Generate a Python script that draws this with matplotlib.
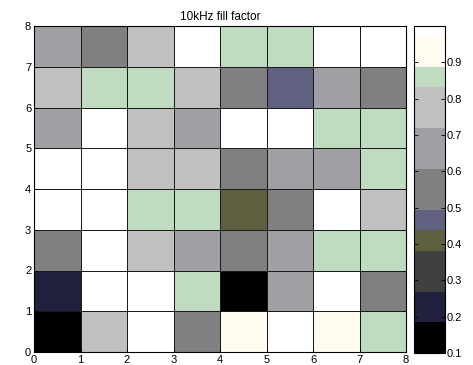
import numpy as np
import matplotlib
matplotlib.use("Agg")
import matplotlib.pyplot as plt
from matplotlib.colors import ListedColormap, Normalize

plt.rcParams['font.family'] = ['Liberation Sans', 'DejaVu Sans']

title = "10kHz fill factor"
x_edges = [0, 1, 2, 3, 4, 5, 6, 7, 8]
y_edges = [0, 1, 2, 3, 4, 5, 6, 7, 8]

# values per row, bottom row (y=0..1) first
row0 = [0.14, 0.78, 0.99, 0.55, 0.93, 0.99, 0.93, 0.86]
row1 = [0.23, 0.99, 0.99, 0.86, 0.14, 0.66, 0.99, 0.55]
row2 = [0.55, 0.99, 0.78, 0.66, 0.55, 0.66, 0.86, 0.86]
row3 = [0.99, 0.99, 0.86, 0.86, 0.41, 0.55, 0.99, 0.78]
row4 = [0.99, 0.99, 0.78, 0.78, 0.55, 0.66, 0.66, 0.86]
row5 = [0.66, 0.99, 0.78, 0.66, 0.99, 0.99, 0.86, 0.86]
row6 = [0.78, 0.86, 0.86, 0.78, 0.55, 0.47, 0.66, 0.55]
row7 = [0.66, 0.55, 0.78, 0.99, 0.86, 0.86, 0.99, 0.99]

cbar_ticks = [0.1, 0.2, 0.3, 0.4, 0.5, 0.6, 0.7, 0.8, 0.9]

# colormap: 32 entries (colour, count)
cmap_colors = ["#000000", "#20203f", "#404040", "#606040", "#606080",
               "#808080", "#a0a0a4", "#c0c0c0", "#c0dcc0", "#fffbf0", "#ffffff"]
cmap_counts = [3, 3, 4, 2, 2, 4, 4, 4, 2, 3, 1]

entries = []
for c, n in zip(cmap_colors, cmap_counts):
    entries += [c] * n
cmap = ListedColormap(entries)
norm = Normalize(vmin=0.1, vmax=1.0)

Z = np.array([row0, row1, row2, row3, row4, row5, row6, row7])

fig = plt.figure(figsize=(4.73, 3.65), dpi=100)
W, H = 473, 365
ax = fig.add_axes([34 / W, 1 - 352 / H, (406 - 34) / W, (352 - 26) / H])
cax = fig.add_axes([414 / W, 1 - 353 / H, (445 - 414) / W, (353 - 26) / H])

mesh = ax.pcolormesh(x_edges, y_edges, Z, cmap=cmap, norm=norm,
                     edgecolors="#1a1a1a", linewidth=0.7)
ax.set_xlim(0, 8)
ax.set_ylim(0, 8)
ax.set_xticks(x_edges)
ax.set_yticks(y_edges)
ax.tick_params(direction="in", length=3, labelsize=8, pad=2, width=0.6,
               top=True, right=True)
for s in ax.spines.values():
    s.set_linewidth(0.8)
ax.set_title(title, fontsize=8.5, pad=4)

cb = fig.colorbar(mesh, cax=cax, ticks=cbar_ticks)
cb.ax.tick_params(direction="in", length=3, labelsize=8, pad=1, width=0.6,
                  left=True, right=True)
cb.ax.set_yticklabels([f"{t:.1f}" for t in cbar_ticks])
cb.outline.set_linewidth(0.8)

fig.savefig("out.png", dpi=100)
